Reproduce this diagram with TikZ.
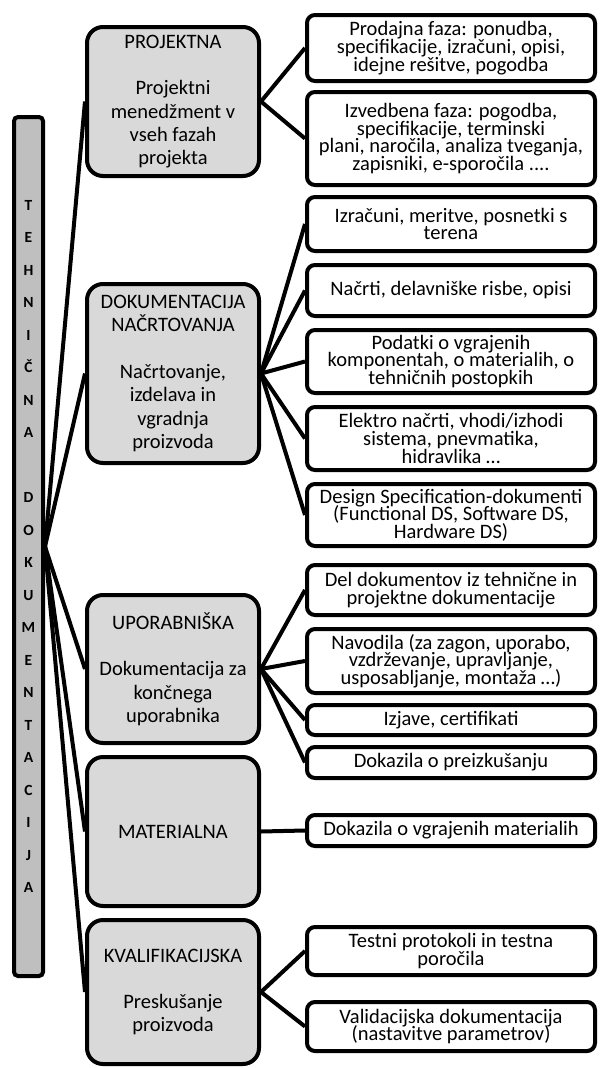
\documentclass[tikz,border=0pt]{standalone}
\usepackage{fontspec}
\setmainfont{Carlito}
\usetikzlibrary{backgrounds}
\definecolor{midgray}{HTML}{D9D9D9}
\definecolor{bargray}{HTML}{BFBFBF}
\newcommand\RBox[4]{\node[rb, minimum height={(#3-#2-4)*1pt}] (#1) at (451,{(#2+#3)/2}) {#4};}
\newcommand\MBox[4]{\node[mb, minimum height={(#3-#2-4)*1pt}] (#1) at (173,{(#2+#3)/2}) {#4};}
\begin{document}
\begin{tikzpicture}[x=1pt,y=-1pt,
  rb/.style={draw, line width=4pt, fill=white, rounded corners=8pt, minimum width=288pt, inner sep=0pt, align=center,
    font={\fontsize{20.5}{17.7}\selectfont\lineskiplimit=-100pt\lineskip=0pt}},
  mb/.style={draw, line width=4pt, fill=midgray, rounded corners=16pt, minimum width=172pt, inner sep=0pt, align=center,
    font={\fontsize{20.5}{23.3}\selectfont}},
  conn/.style={line width=4pt},
  letter/.style={font={\bfseries\fontsize{15.5}{18}\selectfont}, anchor=base, inner sep=0pt}]
\useasboundingbox (0,0) rectangle (600,1068);

% vertical bar
\node[draw, fill=bargray, line width=4pt, rounded corners=4pt, minimum width=29pt, minimum height=859pt, inner sep=0pt] (bar) at (28.5,546.5) {};
\foreach \l [count=\i from 0] in {T,E,H,N,I,Č,N,A,{},D,O,K,U,M,E,N,T,A,C,I,J,A}
  \node[letter] (l\i) at (28.5,{210+32.5*\i}) {\l};

% middle boxes
\MBox{mP}{25}{178}{PROJEKTNA\\[23.3pt]Projektni\\menedžment v\\vseh fazah\\projekta}
\MBox{mD}{282}{465}{DOKUMENTACIJA\\NAČRTOVANJA\\[23.3pt]Načrtovanje,\\izdelava in\\vgradnja\\proizvoda}
\MBox{mU}{593}{745}{UPORABNIŠKA\\[23.3pt]Dokumentacija za\\končnega\\uporabnika}
\MBox{mM}{755}{908}{MATERIALNA}
\MBox{mK}{918}{1066}{KVALIFIKACIJSKA\\[23.3pt]Preskušanje\\proizvoda}

% right boxes
\RBox{r1}{13}{83}{Prodajna faza: ponudba,\\specifikacije, izračuni, opisi,\\idejne rešitve, pogodba}
\RBox{r2}{90}{187}{Izvedbena faza: pogodba,\\specifikacije, terminski\\plani, naročila, analiza tveganja,\\zapisniki, e-sporočila ....}
\RBox{r3}{195}{253}{Izračuni, meritve, posnetki s\\terena}
\RBox{r4}{263}{318}{Načrti, delavniške risbe, opisi}
\RBox{r5}{328}{395}{Podatki o vgrajenih\\komponentah, o materialih, o\\tehničnih postopkih}
\RBox{r6}{405}{472}{Elektro načrti, vhodi/izhodi\\sistema, pnevmatika,\\hidravlika …}
\RBox{r7}{482}{548}{Design Specification-dokumenti\\(Functional DS, Software DS,\\Hardware DS)}
\RBox{r8}{563}{617}{Del dokumentov iz tehnične in\\projektne dokumentacije}
\RBox{r9}{627}{695}{Navodila (za zagon, uporabo,\\vzdrževanje, upravljanje,\\usposabljanje, montaža …)}
\RBox{r10}{703}{737}{Izjave, certifikati}
\RBox{r11}{745}{780}{Dokazila o preizkušanju}
\RBox{r12}{813}{848}{Dokazila o vgrajenih materialih}
\RBox{r13}{925}{977}{Testni protokoli in testna\\poročila}
\RBox{r14}{1000}{1053}{Validacijska dokumentacija\\(nastavitve parametrov)}

\begin{scope}[on background layer]
  \foreach \m in {mP,mD,mU,mM,mK} \draw[conn] (bar.east) -- (\m.west);
  \foreach \r in {r1,r2} \draw[conn] (mP.east) -- (\r.west);
  \foreach \r in {r3,r4,r5,r6,r7} \draw[conn] (mD.east) -- (\r.west);
  \foreach \r in {r8,r9,r10,r11} \draw[conn] (mU.east) -- (\r.west);
  \draw[conn] (mM.east) -- (r12.west);
  \foreach \r in {r13,r14} \draw[conn] (mK.east) -- (\r.west);
\end{scope}
\end{tikzpicture}
\end{document}
